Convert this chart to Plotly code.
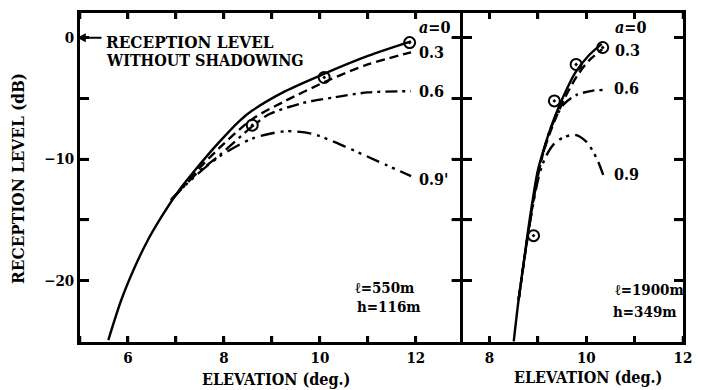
import plotly.graph_objects as go

# ---------------- data: left panel (l=550m, h=116m) ----------------
L_a0_x = [5.59, 5.86, 6.14, 6.41, 6.69, 7.04, 7.4, 7.9, 8.31, 8.59, 9.28, 10.07, 11.0, 11.9]
L_a0_y = [-24.9, -21.6, -18.9, -16.7, -14.8, -12.7, -10.9, -8.6, -6.9, -6.0, -4.4, -3.0, -1.5, -0.3]
L_a3_x = [6.9, 7.4, 7.9, 8.59, 9.28, 10.18, 11.0, 11.9]
L_a3_y = [-13.4, -11.1, -9.1, -6.7, -5.2, -3.5, -2.2, -1.2]
L_a6_x = [6.9, 7.4, 7.9, 8.59, 8.94, 9.62, 10.31, 11.0, 11.9]
L_a6_y = [-13.4, -11.3, -9.7, -7.3, -6.3, -5.4, -4.9, -4.5, -4.4]
L_a9_x = [6.9, 7.4, 7.9, 8.59, 9.28, 9.83, 10.31, 11.0, 11.9]
L_a9_y = [-13.3, -11.4, -9.8, -8.3, -7.7, -7.9, -8.6, -9.8, -11.4]
L_pts_x = [8.59, 10.09, 11.87]
L_pts_y = [-7.2, -3.27, -0.4]

# ---------------- data: right panel (l=1900m, h=349m) ----------------
R_a0_x = [8.5, 8.6, 8.71, 8.81, 8.91, 9.0, 9.19, 9.36, 9.53, 9.77, 10.04, 10.32]
R_a0_y = [-25.0, -21.6, -18.4, -15.5, -12.9, -10.9, -8.3, -6.4, -4.8, -2.9, -1.5, -0.5]
R_a3_x = [8.6, 8.81, 9.02, 9.19, 9.36, 9.55, 9.8, 10.05, 10.33]
R_a3_y = [-21.6, -15.8, -10.8, -8.5, -6.7, -5.0, -3.2, -1.9, -0.95]
R_a6_x = [8.6, 8.81, 9.02, 9.25, 9.53, 9.8, 10.14, 10.35]
R_a6_y = [-21.6, -15.8, -11.0, -7.6, -5.5, -4.7, -4.35, -4.3]
R_a9_x = [8.6, 8.81, 9.02, 9.15, 9.32, 9.53, 9.77, 10.01, 10.21, 10.35]
R_a9_y = [-21.6, -15.8, -11.4, -9.9, -8.8, -8.2, -8.0, -8.6, -9.9, -11.3]
R_pts_x = [8.91, 9.34, 9.79, 10.34]
R_pts_y = [-16.3, -5.2, -2.2, -0.8]

# ticks (labels empty on unlabelled ticks)
L_xtickvals = [5, 6, 7, 8, 9, 10, 11, 12]
L_xticktext = ["", "6", "", "8", "", "10", "", "12"]
R_xtickvals = [8, 9, 10, 11, 12]
R_xticktext = ["8", "", "10", "", "12"]
y_tickvals = [0, -5, -10, -15, -20]
y_ticktext = ["0", "", "\u221210", "", "\u221220"]

FONT = "DejaVu Serif Condensed, Liberation Serif, serif"
BLACK = "black"

def bold(labels):
    return ["<b>%s</b>" % t if t else "" for t in labels]

fig = go.Figure()

def add_curves(xs, ys, dash, xa, ya):
    fig.add_trace(go.Scatter(x=xs, y=ys, mode="lines", xaxis=xa, yaxis=ya,
                             line=dict(color=BLACK, width=2.4, dash=dash, shape="spline", smoothing=0.8),
                             hoverinfo="skip"))

dash03 = "9px,5px"
dash06 = "12px,5px,3px,5px"
dash09 = "14px,6px,3px,5px,3px,6px"

add_curves(L_a0_x, L_a0_y, "solid", "x", "y")
add_curves(L_a3_x, L_a3_y, dash03, "x", "y")
add_curves(L_a6_x, L_a6_y, dash06, "x", "y")
add_curves(L_a9_x, L_a9_y, dash09, "x", "y")
add_curves(R_a0_x, R_a0_y, "solid", "x2", "y2")
add_curves(R_a3_x, R_a3_y, dash03, "x2", "y2")
add_curves(R_a6_x, R_a6_y, dash06, "x2", "y2")
add_curves(R_a9_x, R_a9_y, dash09, "x2", "y2")

for xs, ys, xa, ya in [(L_pts_x, L_pts_y, "x", "y"), (R_pts_x, R_pts_y, "x2", "y2")]:
    fig.add_trace(go.Scatter(x=xs, y=ys, mode="markers", xaxis=xa, yaxis=ya,
                             marker=dict(symbol="circle-open-dot", size=11, color=BLACK,
                                         line=dict(width=2, color=BLACK)),
                             hoverinfo="skip"))

base = dict(showline=True, linewidth=2.5, linecolor=BLACK, mirror="allticks",
            ticks="inside", tickwidth=2.5, tickcolor=BLACK, tickmode="array",
            showgrid=False, zeroline=False)

PLOT_W, PLOT_H = 607, 332
split = 383 / PLOT_W
split2 = 385.5 / PLOT_W
XTICK_LEN, YTICK_LEN = 6, 9
fig.update_layout(
    width=702, height=390,
    margin=dict(l=80, r=15, t=10, b=48),
    paper_bgcolor="white", plot_bgcolor="white", showlegend=False,
    font=dict(family=FONT, size=15, color=BLACK),
    xaxis=dict(domain=[0, split], range=[5, 12.93], tickvals=L_xtickvals, ticktext=bold(L_xticktext),
               anchor="y", ticklen=XTICK_LEN, **base),
    xaxis2=dict(domain=[split2, 1], range=[7.45, 12.0], tickvals=R_xtickvals, ticktext=bold(R_xticktext),
                anchor="y2", ticklen=XTICK_LEN, **base),
    yaxis=dict(anchor="x", range=[-25.06, 2.04], tickvals=y_tickvals, ticktext=bold(y_ticktext),
               ticklen=YTICK_LEN, **base),
    yaxis2=dict(anchor="x2", matches="y", range=[-25.06, 2.04], tickvals=y_tickvals,
                showticklabels=False, ticklen=YTICK_LEN, **base),
)

# tick marks also drawn as axis-referenced shapes at the tick values (both sides of each panel)
tick_line = dict(color=BLACK, width=2.5)
fx = XTICK_LEN / PLOT_H
for xref, ydom, vals in [("x", "y domain", L_xtickvals), ("x2", "y2 domain", R_xtickvals)]:
    for v in vals:
        fig.add_shape(type="line", xref=xref, yref=ydom, x0=v, x1=v, y0=0, y1=fx, line=tick_line, layer="above")
        fig.add_shape(type="line", xref=xref, yref=ydom, x0=v, x1=v, y0=1 - fx, y1=1, line=tick_line, layer="above")
for xdom, yref, width_px in [("x domain", "y", 383), ("x2 domain", "y2", PLOT_W - 385.5)]:
    fy = YTICK_LEN / width_px
    for v in y_tickvals:
        fig.add_shape(type="line", xref=xdom, yref=yref, x0=0, x1=fy, y0=v, y1=v, line=tick_line, layer="above")
        fig.add_shape(type="line", xref=xdom, yref=yref, x0=1 - fy, x1=1, y0=v, y1=v, line=tick_line, layer="above")

lab = dict(family=FONT, size=16, color=BLACK, weight="bold")
big = dict(family=FONT, size=17, color=BLACK, weight="bold")
small = dict(family=FONT, size=15, color=BLACK, weight="bold")

def note(text, x, y, xref, yref, font=lab, xanchor="left"):
    fig.add_annotation(text=text, x=x, y=y, xref=xref, yref=yref, showarrow=False,
                       xanchor=xanchor, yanchor="middle", font=font)

# left panel labels
note("<i>a</i>=0", 12.03, 0.82, "x", "y")
note("0.3", 12.03, -1.22, "x", "y")
note("0.6", 12.03, -4.43, "x", "y")
note("0.9'", 12.03, -11.7, "x", "y")
note("ℓ=550m", 10.69, -20.6, "x", "y", font=small)
note("h=116m", 10.74, -22.2, "x", "y", font=small)

# right panel labels
note("<i>a</i>=0", 10.56, 0.82, "x2", "y2")
note("0.3", 10.56, -1.06, "x2", "y2")
note("0.6", 10.54, -4.2, "x2", "y2")
note("0.9", 10.54, -11.3, "x2", "y2")
note("ℓ=1900m", 10.56, -20.8, "x2", "y2", font=small)
note("h=349m", 10.52, -22.6, "x2", "y2", font=small)

# reception level without shadowing
fig.add_annotation(x=-0.005, y=0, xref="paper", yref="y", text="", showarrow=True,
                   ax=26, ay=0, arrowhead=2, arrowsize=0.8, arrowwidth=2.2, arrowcolor=BLACK)
note("RECEPTION LEVEL", (104 - 80) / PLOT_W, (342 - 39.5) / PLOT_H, "paper", "paper", font=big)
note("WITHOUT SHADOWING", (104 - 80) / PLOT_W, (342 - 57.5) / PLOT_H, "paper", "paper",
     font=dict(family=FONT, size=16, color=BLACK, weight="bold"))

# axis titles
note("ELEVATION (deg.)", (277 - 80) / PLOT_W, (342 - 380) / PLOT_H, "paper", "paper", font=lab, xanchor="center")
note("ELEVATION (deg.)", (591 - 80) / PLOT_W, (342 - 378) / PLOT_H, "paper", "paper", font=lab, xanchor="center")
fig.add_annotation(text="RECEPTION LEVEL (dB)", x=(18 - 80) / PLOT_W, y=(342 - 177) / PLOT_H,
                   xref="paper", yref="paper", showarrow=False, textangle=-90,
                   xanchor="center", yanchor="middle", font=dict(family=FONT, size=17, color=BLACK, weight="bold"))

fig.write_html("out.html")
